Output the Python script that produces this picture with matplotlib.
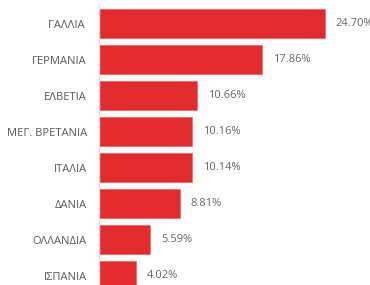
import matplotlib
matplotlib.use("Agg")
import matplotlib.pyplot as plt

categories = ["ΓΑΛΛΙΑ ", "ΓΕΡΜΑΝΙΑ", "ΕΛΒΕΤΙΑ", "ΜΕΓ. ΒΡΕΤΑΝΙΑ", "ΙΤΑΛΙΑ", "ΔΑΝΙΑ", "ΟΛΛΑΝΔΙΑ", "ΙΣΠΑΝΙΑ"]
values = [24.70, 17.86, 10.66, 10.16, 10.14, 8.81, 5.59, 4.02]
labels = ["24.70%", "17.86%", "10.66%", "10.16%", "10.14%", "8.81%", "5.59%", "4.02%"]

plt.rcParams['font.family'] = ['Open Sans', 'DejaVu Sans']
W, H = 370, 285
fig = plt.figure(figsize=(W/100, H/100), dpi=100)
x0, x1 = 99.5, 370
ytop, ybot = 5.5, 293.5
ax = fig.add_axes([x0/W, (H-ybot)/H, (x1-x0)/W, (ybot-ytop)/H])

ypos = list(range(len(categories)))
ax.barh(ypos, values, height=0.81, color="#E32B30", edgecolor="#F06A6E", linewidth=0.6)
ax.set_ylim(len(categories)-0.5, -0.5)
ax.set_xlim(0, (x1-x0)/9.11)
for y, v, l in zip(ypos, values, labels):
    ax.text(v + 1.2, y, l, va="center", ha="left", fontsize=8, color="#666666")
ax.set_yticks(ypos)
ax.set_yticklabels(categories, fontsize=8, color="#595959")
ax.tick_params(axis='y', length=0, pad=9)
ax.set_xticks([])
for s in ["top", "right", "bottom"]:
    ax.spines[s].set_visible(False)
ax.spines["left"].set_color("#D9D9D9")
ax.spines["left"].set_linewidth(1.0)
fig.savefig("out.png", dpi=100)
